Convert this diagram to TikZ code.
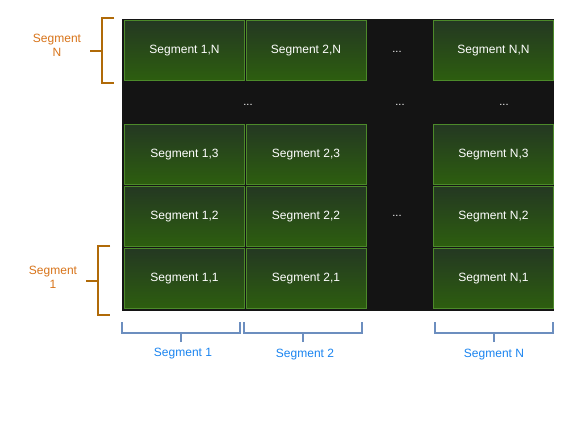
\documentclass[tikz,border=0pt]{standalone}
\usepackage{fontspec}
\setmainfont{Liberation Sans}
\begin{document}
\begin{tikzpicture}[x=1pt,y=-1pt,
  cellbox/.style={draw=cellborder, line width=0.9pt, top color=celltop, bottom color=cellbot, minimum width=120pt, minimum height=60pt, inner sep=0pt, text=white, font=\fontsize{12}{14}\selectfont},
  dotlbl/.style={text=white, font=\fontsize{11}{12}\selectfont, inner sep=0pt},
  brownbr/.style={draw=bracebrown, line width=1.6pt},
  bluebr/.style={draw=braceblue, line width=1.6pt},
  brownlbl/.style={text=labelorange, align=center, font=\fontsize{12}{14}\selectfont, inner sep=0pt},
  bluelbl/.style={text=labelblue, font=\fontsize{12}{14}\selectfont, inner sep=0pt}]
\definecolor{cellborder}{HTML}{4C8A2A}
\definecolor{celltop}{HTML}{243822}
\definecolor{cellbot}{HTML}{2D5E0F}
\definecolor{bracebrown}{HTML}{B06A08}
\definecolor{braceblue}{HTML}{6C8EBF}
\definecolor{labelorange}{HTML}{D8741A}
\definecolor{labelblue}{HTML}{1A84F0}
\definecolor{bgblack}{HTML}{141414}
\useasboundingbox[fill=white] (0,0) rectangle (569,421);
% background
\node[fill=bgblack, minimum width=432pt, minimum height=292pt, inner sep=0pt, anchor=north west] (bg) at (122,19) {};
% cells
\node[cellbox] (c1N) at (184.5,50.5) {Segment 1,N};
\node[cellbox] (c2N) at (306,50.5) {Segment 2,N};
\node[cellbox] (cNN) at (493.5,50.5) {Segment N,N};
\node[cellbox] (c13) at (184.5,154.5) {Segment 1,3};
\node[cellbox] (c23) at (306,154.5) {Segment 2,3};
\node[cellbox] (cN3) at (493.5,154.5) {Segment N,3};
\node[cellbox] (c12) at (184.5,216.5) {Segment 1,2};
\node[cellbox] (c22) at (306,216.5) {Segment 2,2};
\node[cellbox] (cN2) at (493.5,216.5) {Segment N,2};
\node[cellbox] (c11) at (184.5,278.5) {Segment 1,1};
\node[cellbox] (c21) at (306,278.5) {Segment 2,1};
\node[cellbox] (cN1) at (493.5,278.5) {Segment N,1};
% dots
\node[dotlbl] (d1) at (397,51.5) {...};
\node[dotlbl] (d2) at (248,104.5) {...};
\node[dotlbl] (d3) at (400,104.5) {...};
\node[dotlbl] (d4) at (504,104.5) {...};
\node[dotlbl] (d5) at (397,215.5) {...};
% left braces
\coordinate (bNt) at (114,18);
\coordinate (bNb) at (114,83);
\coordinate (bNm) at (90,51);
\draw[brownbr] (bNt) -- (102,18) -- (102,83) -- (bNb);
\draw[brownbr] (bNm) -- (102,51);
\node[brownlbl] (lN) at (57,45) {Segment\\N};
\coordinate (b1t) at (110,246);
\coordinate (b1b) at (110,315);
\coordinate (b1m) at (86,281);
\draw[brownbr] (b1t) -- (98,246) -- (98,315) -- (b1b);
\draw[brownbr] (b1m) -- (98,281);
\node[brownlbl] (l1) at (53,277) {Segment\\1};
% bottom brackets
\coordinate (s1a) at (122,322);
\coordinate (s1b) at (240,322);
\coordinate (s1m) at (181,342);
\draw[bluebr] (s1a) -- (122,333) -- (240,333) -- (s1b);
\draw[bluebr] (s1m) -- (181,333);
\node[bluelbl] (t1) at (183,354) {Segment 1};
\coordinate (s2a) at (244,322);
\coordinate (s2b) at (362,322);
\coordinate (s2m) at (303,342);
\draw[bluebr] (s2a) -- (244,333) -- (362,333) -- (s2b);
\draw[bluebr] (s2m) -- (303,333);
\node[bluelbl] (t2) at (305,355) {Segment 2};
\coordinate (sNa) at (435,322);
\coordinate (sNb) at (553,322);
\coordinate (sNm) at (494,342);
\draw[bluebr] (sNa) -- (435,333) -- (553,333) -- (sNb);
\draw[bluebr] (sNm) -- (494,333);
\node[bluelbl] (tN) at (494,355) {Segment N};
\end{tikzpicture}
\end{document}
